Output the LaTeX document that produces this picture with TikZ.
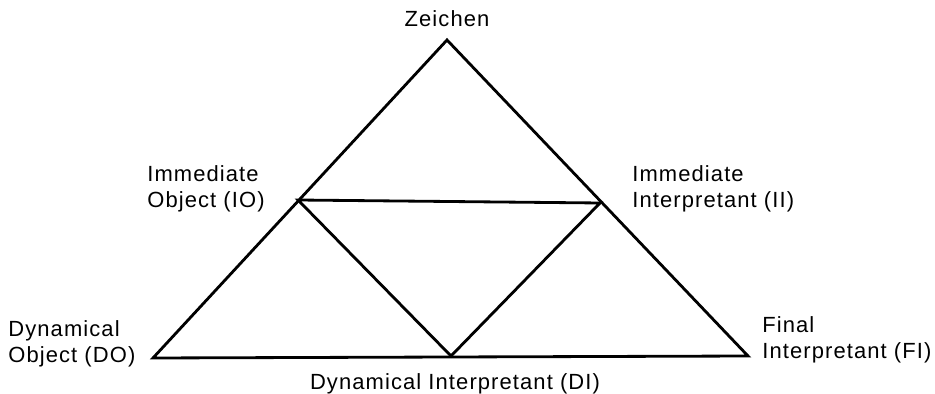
\documentclass[tikz,border=0pt]{standalone}
\usepackage{fontspec}
\setmainfont{Liberation Sans}[LetterSpace=5]
\usetikzlibrary{positioning}

\begin{document}
\begin{tikzpicture}[
			x=0.02cm,y=-0.02cm,
			side/.style={
				draw=black,
				line width=1.6pt,
				line join=miter
			},
			term/.style={
				align=left,
				inner sep=0pt,
				font=\fontsize{12.5}{14.7}\selectfont
			}
			]
			
			\useasboundingbox (0,0) rectangle (935,394);
			
			% Corners
			\coordinate (zeichen) at (447,40);
			\coordinate (io) at (298,200);
			\coordinate (ii) at (600,203);
			\coordinate (do) at (153,358);
			\coordinate (fi) at (748,356);
			\coordinate (di) at (451,356);
			
			% Outer triangle
			\draw[side] (do) -- (zeichen) -- (fi) -- cycle;
			
			% Inner triangle
			\draw[side] (io) -- (ii) -- (di) -- cycle;
			
			% Labels
			\node[term,anchor=base] (zeichenlbl) at (447,27) {Zeichen};
			
			\node[term,anchor=west] (iolbl) at (147,189) {%
				Immediate\\
				Object (IO)
			};
			
			\node[term,anchor=west] (iilbl) at (632,189) {%
				Immediate\\
				Interpretant (II)
			};
			
			\node[term,anchor=west] (dolbl) at (8,344) {%
				Dynamical\\
				Object (DO)
			};
			
			\node[term,anchor=west] (filbl) at (762,340) {%
				Final\\
				Interpretant (FI)
			};
			
			\node[term,anchor=base] (dilbl) at (455,389) {Dynamical Interpretant (DI)};
			
		\end{tikzpicture}
\end{document}
